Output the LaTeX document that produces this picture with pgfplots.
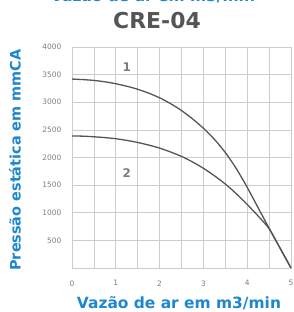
\documentclass[border=0pt]{standalone}
\usepackage{fontspec}
\setmainfont{DejaVu Sans}
\usepackage{pgfplots}
\pgfplotsset{compat=1.18}
\definecolor{lblue}{RGB}{30,135,205}
\definecolor{dgray}{RGB}{85,85,85}
\definecolor{ggray}{RGB}{205,205,205}
\definecolor{tgray}{RGB}{125,125,125}
\begin{document}
\begin{tikzpicture}
\useasboundingbox (-72bp,-44bp) rectangle (222bp,268bp);
\begin{axis}[
  scale only axis,
  width=219bp, height=221bp,
  xmin=0, xmax=5, ymin=0, ymax=4000,
  xtick={0,1,2,3,4,5},
  minor xtick={0.5,1.5,2.5,3.5,4.5},
  ytick={500,1000,...,4000},
  grid=both,
  major grid style={ggray, line width=0.7pt},
  minor grid style={ggray, line width=0.7pt},
  axis line style={ggray, line width=0.7pt},
  major tick length=0pt, minor tick length=0pt,
  tick label style={font=\fontsize{7.5}{8}\selectfont, text=tgray},
  /pgf/number format/assume math mode=true,
  /pgf/number format/1000 sep={},
  yticklabel style={xshift=-7bp},
  xticklabel style={yshift=-9bp},
  clip=false,
]
\addplot[dgray, line width=1.3pt, smooth] coordinates {
(0,3420) (0.25,3410) (0.5,3395) (0.75,3370) (1,3335) (1.25,3290) (1.5,3235) (1.75,3165) (2,3080) (2.25,2975) (2.5,2850) (2.75,2700) (3,2530) (3.25,2330) (3.5,2090) (3.75,1800) (4,1460) (4.25,1090) (4.5,720) (4.75,360) (5,0)};
\addplot[dgray, line width=1.3pt, smooth] coordinates {
(0,2390) (0.25,2386) (0.5,2375) (0.75,2360) (1,2340) (1.25,2310) (1.5,2272) (1.75,2225) (2,2170) (2.25,2100) (2.5,2020) (2.75,1920) (3,1805) (3.25,1670) (3.5,1520) (3.75,1345) (4,1150) (4.25,940) (4.5,710) (4.75,360) (5,0)};
\node[font=\fontsize{12}{12}\selectfont\bfseries, text=tgray] at (axis cs:1.25,3640) {1};
\node[font=\fontsize{12}{12}\selectfont\bfseries, text=tgray] at (axis cs:1.25,1720) {2};
\end{axis}
\node[font=\fontsize{15.5}{16}\selectfont\bfseries, text=lblue, anchor=base] at (81bp,266.5bp) {Vazão de ar em m3/min};
\node[font=\fontsize{22}{22}\selectfont\bfseries, text=dgray] at (85bp,247bp) {CRE-04};
\node[font=\fontsize{14.5}{15}\selectfont\bfseries, text=lblue, rotate=90] at (-57bp,108bp) {Pressão estática em mmCA};
\node[font=\fontsize{15.5}{16}\selectfont\bfseries, text=lblue] at (107bp,-35bp) {Vazão de ar em m3/min};
\end{tikzpicture}
\end{document}
